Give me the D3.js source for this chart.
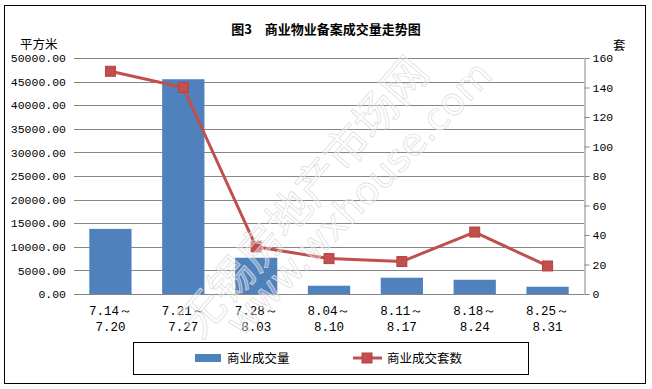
<!DOCTYPE html>
<html>
<head>
<meta charset="utf-8">
<script src="https://cdn.jsdelivr.net/npm/d3@7"></script>
<style>
  body { margin: 0; background: #fff; }
  text { font-family: "Noto Sans CJK SC", sans-serif; }
  .num { font-family: "Liberation Mono", monospace; font-size: 11.5px; }
  .xl { font-family: "Liberation Mono", monospace; font-size: 12.5px; }
</style>
</head>
<body>
<div id="chart"></div>
<script>
// weekly periods
const periods = ["7.14～7.20", "7.21～7.27", "7.28～8.03", "8.04～8.10", "8.11～8.17", "8.18～8.24", "8.25～8.31"];
// 商业成交量 (平方米)
const areaVals = [13800, 45500, 7680, 1750, 3450, 3020, 1540];
// 商业成交套数 (套)
const unitVals = [151, 140, 32, 24, 22, 42, 19];
const leftTicks = [0, 5000, 10000, 15000, 20000, 25000, 30000, 35000, 40000, 45000, 50000];
const rightTicks = [0, 20, 40, 60, 80, 100, 120, 140, 160];

const W = 652, H = 389;
const m = { left: 74, right: 652 - 584, top: 58, bottom: 389 - 294 };

const svg = d3.select("#chart").append("svg")
  .attr("width", W).attr("height", H);

svg.append("rect")
  .attr("x", 4.5).attr("y", 5.5).attr("width", 641).attr("height", 378)
  .attr("fill", "#fff").attr("stroke", "#000").attr("stroke-width", 1);

const x = d3.scaleBand().domain(periods).range([m.left, W - m.right]).paddingInner(0.42).paddingOuter(0.21);
const yL = d3.scaleLinear().domain([0, 50000]).range([H - m.bottom, m.top]);
const yR = d3.scaleLinear().domain([0, 160]).range([H - m.bottom, m.top]);

// title
svg.append("text")
  .attr("x", 326).attr("y", 34).attr("text-anchor", "middle")
  .style("font-size", "13px").style("font-weight", "bold")
  .text("图3　商业物业备案成交量走势图");

// gridlines
svg.append("g").selectAll("line").data(leftTicks).enter().append("line")
  .attr("x1", m.left).attr("x2", W - m.right)
  .attr("y1", d => Math.round(yL(d)) + 0.5).attr("y2", d => Math.round(yL(d)) + 0.5)
  .attr("stroke", "#868686").attr("stroke-width", 1);

// left axis labels
svg.append("g").selectAll("text").data(leftTicks).enter().append("text")
  .attr("class", "num")
  .attr("x", 66).attr("y", d => yL(d)).attr("dy", "0.36em")
  .attr("text-anchor", "end")
  .text(d => d3.format(".2f")(d));

svg.append("text").attr("x", 20).attr("y", 49)
  .style("font-size", "12.5px").text("平方米");

// right axis
const rAxis = svg.append("g")
  .attr("transform", `translate(${W - m.right + 0.5},0)`)
  .call(d3.axisRight(yR).tickValues(rightTicks).tickSize(5).tickPadding(3));
rAxis.select(".domain").attr("stroke", "#868686");
rAxis.selectAll(".tick line").attr("stroke", "#868686");
rAxis.selectAll(".tick text").attr("class", "num").attr("fill", "#000")
  .style("font-family", "Liberation Mono, monospace").style("font-size", "11.5px");

svg.append("text").attr("x", 613).attr("y", 50)
  .style("font-size", "12.5px").text("套");

// bars
svg.append("g").selectAll("rect").data(areaVals).enter().append("rect")
  .attr("x", (d, i) => x(periods[i]))
  .attr("width", x.bandwidth())
  .attr("y", d => yL(d))
  .attr("height", d => yL(0) - yL(d))
  .attr("fill", "#4F81BD");

// x labels
const xl = svg.append("g").selectAll("text").data(periods).enter().append("text")
  .attr("class", "xl")
  .attr("text-anchor", "middle")
  .attr("x", d => x(d) + x.bandwidth() / 2);
xl.append("tspan").attr("x", d => x(d) + x.bandwidth() / 2).attr("y", 315)
  .text(d => d.split("～")[0] + "～");
xl.append("tspan").attr("x", d => x(d) + x.bandwidth() / 2).attr("y", 331)
  .text(d => d.split("～")[1]);

// line
const cx = (d, i) => x(periods[i]) + x.bandwidth() / 2;
const line = d3.line().x(cx).y(d => yR(d));
svg.append("path").datum(unitVals)
  .attr("d", line).attr("fill", "none")
  .attr("stroke", "#C0504D").attr("stroke-width", 3);
svg.append("g").selectAll("rect").data(unitVals).enter().append("rect")
  .attr("x", (d, i) => cx(d, i) - 5).attr("y", d => yR(d) - 5)
  .attr("width", 10).attr("height", 10)
  .attr("fill", "#C0504D").attr("stroke", "#B9413E").attr("stroke-width", 1);

// watermark
const wm = svg.append("g").attr("pointer-events", "none");
wm.append("text")
  .attr("transform", "translate(200,340) rotate(-49)")
  .style("font-size", "44px")
  .attr("fill", "#fff").attr("fill-opacity", 0.3)
  .attr("stroke", "#dcdcdc").attr("stroke-width", 0.7)
  .text("无锡房地产市场网");
wm.append("text")
  .attr("transform", "translate(242,338) rotate(-46)")
  .style("font-family", "DejaVu Sans, sans-serif")
  .style("font-size", "38px")
  .attr("fill", "#fff").attr("fill-opacity", 0.3)
  .attr("stroke", "#dcdcdc").attr("stroke-width", 0.7)
  .text("www.wxhouse.com");

// legend
svg.append("rect").attr("x", 133.5).attr("y", 342.5).attr("width", 395).attr("height", 32)
  .attr("fill", "#fff").attr("stroke", "#000");
svg.append("rect").attr("x", 195).attr("y", 354).attr("width", 26).attr("height", 8).attr("fill", "#4F81BD");
svg.append("text").attr("x", 227).attr("y", 363).style("font-size", "12.5px").text("商业成交量");
svg.append("line").attr("x1", 353).attr("x2", 382).attr("y1", 358).attr("y2", 358)
  .attr("stroke", "#C0504D").attr("stroke-width", 3);
svg.append("rect").attr("x", 362).attr("y", 353).attr("width", 10).attr("height", 10)
  .attr("fill", "#C0504D").attr("stroke", "#B9413E");
svg.append("text").attr("x", 387).attr("y", 363).style("font-size", "12.5px").text("商业成交套数");
</script>
</body>
</html>
